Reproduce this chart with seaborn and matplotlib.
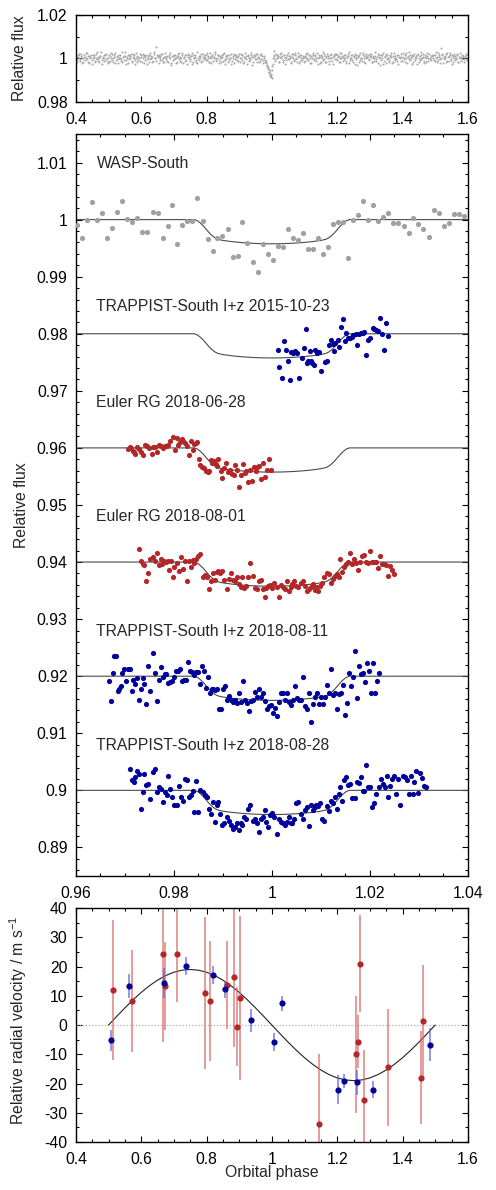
import numpy as np
import pandas as pd
import matplotlib
matplotlib.use("Agg")
import matplotlib.pyplot as plt
import seaborn as sns
from matplotlib.ticker import MultipleLocator, FormatStrFormatter

# ---------------- data ----------------
# top panel: folded WASP-South photometry (phase in 1e-3, flux deviation in 1e-4)
top_p = [401, 404, 407, 410, 414, 417, 420, 423, 427, 430, 433, 436, 440, 443, 446, 449, 453, 456, 459, 462, 466, 469, 472, 475, 479, 482, 485, 488, 492, 495,
         498, 502, 505, 508, 512, 515, 518, 521, 525, 528, 531, 535, 538, 541, 544, 548, 551, 554, 558, 561, 564, 567, 571, 574, 577, 581, 584, 587, 590, 594,
         597, 600, 604, 607, 610, 613, 617, 620, 623, 627, 630, 633, 636, 640, 643, 646, 650, 653, 656, 659, 663, 666, 669, 673, 676, 679, 682, 686, 689, 692,
         696, 699, 702, 705, 709, 712, 715, 719, 722, 725, 728, 732, 735, 738, 742, 745, 748, 751, 755, 758, 761, 765, 768, 771, 774, 778, 781, 784, 788, 791,
         794, 797, 801, 804, 807, 811, 814, 817, 820, 824, 827, 830, 834, 837, 840, 843, 847, 850, 853, 857, 860, 863, 866, 870, 873, 876, 880, 883, 886, 889,
         893, 896, 899, 903, 906, 909, 912, 916, 919, 922, 926, 929, 932, 935, 939, 942, 945, 949, 952, 955, 958, 962, 965, 968, 972, 975, 978, 981, 984, 987,
         989, 991, 993, 994, 996, 997, 999,
         1000, 1002, 1005, 1008, 1011, 1015, 1018, 1021, 1025, 1028, 1031, 1034, 1038, 1041, 1044, 1048, 1051, 1054, 1057, 1061, 1064, 1067, 1071, 1074, 1077, 1080, 1084, 1087, 1090, 1094,
         1097, 1100, 1104, 1107, 1110, 1113, 1117, 1120, 1123, 1127, 1130, 1133, 1136, 1140, 1143, 1146, 1150, 1153, 1156, 1159, 1163, 1166, 1169, 1173, 1176, 1179, 1182, 1186, 1189, 1192,
         1196, 1199, 1202, 1205, 1209, 1212, 1215, 1219, 1222, 1225, 1228, 1232, 1235, 1238, 1242, 1245, 1248, 1251, 1255, 1258, 1261, 1265, 1268, 1271, 1274, 1278, 1281, 1284, 1288, 1291,
         1294, 1297, 1301, 1304, 1307, 1311, 1314, 1317, 1320, 1324, 1327, 1330, 1334, 1337, 1340, 1343, 1347, 1350, 1353, 1357, 1360, 1363, 1366, 1370, 1373, 1376, 1380, 1383, 1386, 1389,
         1393, 1396, 1399, 1403, 1406, 1409, 1412, 1416, 1419, 1422, 1426, 1429, 1432, 1435, 1439, 1442, 1445, 1449, 1452, 1455, 1458, 1462, 1465, 1468, 1472, 1475, 1478, 1481, 1485, 1488,
         1491, 1495, 1498, 1501, 1504, 1508, 1511, 1514, 1518, 1521, 1524, 1527, 1531, 1534, 1537, 1541, 1544, 1547, 1550, 1554, 1557, 1560, 1564, 1567, 1570, 1573, 1577, 1580, 1583, 1587,
         1590, 1593, 1597, 1600]
top_f = [10, -6, 16, 4, -12, 20, 0, -18, 8, 24, -4, 12, -22, 6, 14, -8, 2, 18, -14, 4, 28, -10, 0, 12, -24, 6, 16, -2, 22, -12,
         4, -16, 10, 26, -6, 0, 14, -20, 8, -4, 18, 2, -12, 30, 6, -8, 12, -26, 4, 16, -2, 10, -14, 20, 0, -6, 24, -18, 8, 2,
         -10, 14, 4, -22, 18, 6, -4, 12, -16, 26, 0, 8, -12, 20, 2, 55, 10, 16, -6, 4, 22, -14, 8, 8, -2, 12, -18, 6, 24, -28,
         12, -4, 18, 2, -16, 8, 26, -10, 0, 14, -20, 6, 16, -6, 22, 4, -12, 10, -24, 18, 0, 8, -14, 28, 2, -8, 12, -18, 20, 6,
         4, 18, -8, 12, -18, 24, 0, 10, -12, 6, 20, -4, 14, -22, 8, 2, 16, -10, 26, -6, 12, 0, -16, 18, 4, -26, 10, 22, -2, 14,
         -6, 10, 20, -14, 4, 16, -20, 8, 24, -2, 12, -10, 0, 18, -28, 6, 14, -4, 22, -16, 8, 2, -12, 20, -6, 10, -18, -10, -30, -45,
         -40, -60, -55, -75, -85, -70, -90,
         -55, -25, 36, 12, -4, 18, 6, -14, 22, 0, 10, -18, 16, 4, -8, 26, -2, 12, -22, 8, 20, -6, 14, 0, -16, 24, 6, -10, 18, 2,
         8, -12, 22, 4, -6, 16, -20, 10, 0, 26, -8, 14, 2, -24, 18, 6, -14, 12, 28, -4, 10, -18, 20, 0, -10, 16, 4, -26, 12, 22,
         -4, 14, 6, -18, 24, 0, 10, -12, 18, 4, -22, 12, 28, -6, 2, 16, -14, 8, 20, -2, -28, 10, 18, -8, 4, 24, -16, 12, 0, 6,
         16, -6, 10, 22, -14, 4, -10, 12, -2, 20, 6, -32, 14, 0, 26, -10, 8, -22, 18, 4, -6, 12, 24, -16, 2, 10, -4, 18, -24, 8,
         6, 20, -10, 2, 14, -18, 24, 8, -4, 16, 0, -26, 12, 22, -8, 4, 18, -14, 10, 28, -2, 6, -20, 16, 0, 12, -12, 22, 4, -6,
         12, -8, 18, 2, -16, 24, 6, -4, 50, 14, -22, 8, 0, 20, -12, 10, 26, -6, 16, -18, 4, 12, -2, 22, -14, 8, 0, -10, 18, -4,
         6, 14, -8, 2]
top2_p = [402, 405, 409, 412, 415, 418, 422, 425, 428, 431, 435, 438, 441, 444, 448, 451, 454, 458, 461, 464, 467, 471, 474, 477, 480, 484, 487, 490, 494, 497,
          500, 503, 506, 510, 513, 516, 519, 523, 526, 529, 532, 536, 539, 542, 546, 549, 552, 555, 559, 562, 565, 568, 572, 575, 578, 582, 585, 588, 591, 595,
          598, 602, 605, 608, 611, 615, 618, 621, 625, 628, 631, 634, 638, 641, 644, 647, 651, 654, 657, 661, 664, 667, 670, 674, 677, 680, 684, 687, 690, 693,
          697, 700, 703, 707, 710, 713, 717, 720, 723, 726, 730, 733, 736, 739, 743, 746, 749, 753, 756, 759, 762, 766, 769, 772, 776, 779, 782, 785, 789, 792,
          795, 799, 802, 805, 809, 812, 815, 818, 822, 825, 828, 832, 835, 838, 841, 845, 848, 851, 855, 858, 861, 864, 868, 871, 874, 878, 881, 884, 887, 891,
          894, 897, 901, 904, 907, 910, 914, 917, 920, 924, 927, 930, 933, 937, 940, 943, 947, 950, 953, 956, 960, 963, 966, 970, 973, 976, 979, 982, 985, 988,
          990, 992, 995, 998,
          1001, 1004, 1007, 1010, 1013, 1016, 1020, 1023, 1026, 1029, 1033, 1036, 1039, 1043, 1046, 1049, 1052, 1056, 1059, 1062, 1066, 1069, 1072, 1075, 1079, 1082, 1085, 1089, 1092, 1095,
          1098, 1102, 1105, 1108, 1112, 1115, 1118, 1121, 1125, 1128, 1131, 1135, 1138, 1141, 1144, 1148, 1151, 1154, 1158, 1161, 1164, 1167, 1171, 1174, 1177, 1181, 1184, 1187, 1190, 1194,
          1197, 1200, 1204, 1207, 1210, 1213, 1217, 1220, 1223, 1227, 1230, 1233, 1236, 1240, 1243, 1246, 1250, 1253, 1256, 1259, 1263, 1266, 1269, 1273, 1276, 1279, 1282, 1286, 1289, 1292,
          1296, 1299, 1302, 1305, 1309, 1312, 1315, 1318, 1322, 1325, 1328, 1332, 1335, 1338, 1341, 1345, 1348, 1351, 1355, 1358, 1361, 1364, 1368, 1371, 1374, 1378, 1381, 1384, 1387, 1391,
          1394, 1397, 1401, 1404, 1407, 1410, 1414, 1417, 1420, 1424, 1427, 1430, 1433, 1437, 1440, 1443, 1447, 1450, 1453, 1456, 1460, 1463, 1466, 1470, 1473, 1476, 1479, 1483, 1486, 1489,
          1493, 1496, 1499, 1503, 1506, 1509, 1512, 1516, 1519, 1522, 1526, 1529, 1532, 1535, 1539, 1542, 1545, 1548, 1552, 1555, 1558, 1562, 1565, 1568, 1571, 1575, 1578, 1581, 1585, 1588,
          1591, 1595, 1598]
top2_f = [-14, 8, 22, -2, 12, -20, 4, 16, -8, 0, 26, -16, 10, 2, -24, 14, 6, -10, 20, -4, 8, -18, 12, 30, -6, 2, -12, 18, 4, -22,
          16, -10, 2, 20, -18, 8, 24, -6, 12, -22, 4, 18, -2, -14, 10, 28, -8, 6, -20, 14, 0, 22, -12, 8, 16, -26, 4, 12, -6, 20,
          6, -18, 22, 10, -8, 14, -26, 4, 18, -4, 12, -14, 28, 2, -10, 16, 6, -22, 10, 20, -6, 2, -16, 24, 8, -12, 14, 0, -20, 10,
          -8, 16, 4, -20, 12, 22, -4, 8, -16, 26, 2, -10, 14, -24, 6, 18, -2, 10, 24, -14, 4, 16, -8, -22, 12, 2, 20, -12, 8, -4,
          14, -6, 24, 2, -14, 8, -22, 16, 4, 28, -10, 0, 18, -6, 12, -18, 6, 22, -2, -26, 10, 16, -8, 4, 20, -12, 0, -20, 14, 8,
          8, -12, 2, 22, -6, 14, -16, 4, 10, -24, 18, 0, -8, 26, 6, -18, 12, -2, 20, 4, -14, 16, -4, 10, -20, 4, -8, -22, -35, -50,
          -65, -60, -80, -75,
          -35, 4, 16, -10, 22, 0, 12, -18, 6, 26, -6, 14, -24, 8, 18, -2, 10, 2, -14, 20, 4, -10, 24, -4, 10, -20, 16, 0, -8, 12,
          -16, 10, 2, 24, -8, 14, 4, -20, 18, -4, 10, -12, 26, 0, 8, -22, 16, 2, -6, 20, -14, 6, 12, -24, 4, 22, -10, 8, 14, -2,
          20, -8, 12, 2, -18, 26, 6, -4, 14, -12, 8, 22, -20, 4, 16, -6, 10, -26, 2, 18, 8, -14, 24, 0, -10, 14, 4, -22, 20, 6,
          -2, 22, 8, -16, 12, 4, 28, -10, 6, -20, 16, 0, -6, 14, -24, 10, 20, -4, 2, -14, 18, 8, -22, 12, 26, -8, 4, -12, 14, 0,
          -12, 8, 24, -4, 16, 0, -20, 10, 28, -8, 6, 18, -16, 2, 12, -26, 20, 4, -6, 14, 0, 22, -10, 8, -18, 26, 4, -4, 12, 18,
          2, 18, -12, 30, 8, -6, 14, -20, 4, 22, -2, 10, -16, 24, 6, -10, 16, 0, -24, 12, 20, -8, 2, 14, -14, 26, 6, -4, 10, -18,
          8, 20, -6]

# middle panel light curves: phase offset from 1 in 1e-4, flux deviation in 1e-4
wasp_p = [-398, -388, -377, -367, -357, -347, -337, -326, -316, -306, -296, -286, -275, -265, -254, -243, -233, -223, -213, -203,
          -193, -183, -173, -163, -152, -141, -131, -121, -111, -101, -90, -80, -70, -60, -50, -39, -29, -18, -8, 2,
          12, 22, 33, 43, 53, 63, 73, 84, 94, 104, 114, 125, 135, 146, 156, 166, 176, 186, 197, 207,
          217, 227, 237, 248, 258, 269, 279, 289, 299, 309, 320, 330, 341, 351, 361, 371, 381, 392]
wasp_f = [-10, -32, 0, 30, 0, 12, -32, -15, 14, 33, 1, -4, 3, -22, -22, 14, 11, -32, -11, 26,
          -43, -9, -2, -2, 37, -3, -34, -55, -32, -29, -17, -65, -64, -4, -41, -74, -92, -43, -60, -71,
          -47, -48, -16, -32, -35, -24, -52, -51, -33, -61, -48, -7, -5, -4, -67, 0, 8, 32, 0, 26,
          -2, 5, 11, -6, -6, -12, -23, 3, -7, -17, -31, 16, 11, -11, -6, 9, 9, 7]

t15_p = [12, 15, 20, 24, 29, 32, 36, 40, 44, 48, 52, 56, 61, 65, 69, 71, 74, 77, 79, 82,
         86, 89, 92, 96, 101, 108, 112, 117, 121, 124, 126, 129, 134, 137, 142, 146, 150, 152, 156, 159,
         163, 166, 171, 174, 177, 181, 185, 188, 192, 196, 200, 207, 209, 212, 217, 220, 224, 228, 233, 237]
t15_f = [-28, -59, -78, -13, -28, -48, -81, -32, -33, -31, -34, -78, -42, -25, 8, -51, -48, -30, -47, -51,
         -54, -29, -33, -32, -66, -50, -47, -19, -11, -18, -30, -16, -11, -23, 11, 26, -13, 1, -7, -7,
         -6, -2, 0, -19, 0, 2, 1, 3, -37, -11, -8, 10, 8, 6, 4, 27, -1, -28, 18, -4]

e0628_p = [-293, -290, -287, -284, -282, -279, -275, -271, -268, -264, -259, -254, -250, -245, -242, -239, -235, -231, -227, -223,
           -218, -215, -211, -207, -201, -198, -194, -191, -188, -184, -181, -177, -174, -170, -166, -162, -158, -155, -152, -148,
           -146, -142, -139, -135, -131, -128, -125, -122, -118, -114, -112, -109, -104, -101, -97, -93, -90, -86, -82, -78,
           -75, -71, -67, -63, -59, -55, -52, -48, -44, -40, -37, -33, -30, -26, -22, -18, -14, -10, -5, -1]
e0628_f = [-2, 2, 0, -5, -7, -11, 2, -2, -8, -13, 5, 3, -1, -10, 2, 2, -7, 5, 3, -1,
           3, 4, 5, 12, 19, -4, 18, 5, 11, 16, 12, 8, 3, -12, 12, -4, 6, 9, 11, -20,
           -30, -33, -36, -40, -42, -40, -22, -27, -23, -29, -32, -19, -40, -52, -36, -26, -42, -39, -45, -48,
           -30, -39, -68, -48, -29, -44, -40, -60, -38, -58, -33, -40, -33, -32, -55, -27, -51, -39, -19, -39]

e0801_p = [-271, -268, -264, -260, -256, -252, -248, -243, -239, -235, -231, -227, -224, -220, -216, -212, -210, -205, -201, -199,
           -194, -190, -186, -182, -178, -174, -170, -166, -162, -158, -154, -150, -146, -141, -137, -133, -129, -125, -121, -117,
           -113, -109, -105, -101, -97, -92, -88, -84, -80, -76, -72, -68, -64, -60, -56, -52, -48, -44, -39, -35,
           -31, -27, -23, -19, -15, -11, -7, -3, 1, 5, 10, 14, 18, 22, 26, 30, 34, 38, 42, 46,
           50, 54, 59, 63, 67, 71, 75, 79, 83, 87, 91, 95, 99, 103, 107, 112, 116, 120, 124, 128,
           132, 136, 139, 143, 147, 151, 155, 159, 163, 167, 171, 175, 180, 184, 188, 192, 196, 200, 204, 208,
           212, 216, 220, 224, 228, 233, 237, 241, 245, 249]
e0801_f = [23, 2, -3, -5, -33, -19, 5, 8, 2, 15, -5, 5, -4, 2, 0, 2, -14, 1, -26, -9,
           -1, -15, 8, -13, 2, -33, 2, -8, 4, -2, 6, 11, 14, -26, -23, -26, -48, -33, -19, -32,
           -17, -15, -20, -15, -32, -48, -30, -20, -32, -34, -27, -39, -43, -26, -46, -42, -27, -1, -25, -46,
           -48, -34, -32, -48, -62, -46, -42, -40, -46, -37, -44, -62, -40, -43, -48, -34, -50, -44, -39, -33,
           -42, -44, -36, -33, -42, -50, -48, -43, -39, -49, -44, -50, -42, -36, -27, -19, -21, -36, -29, -25,
           -21, -27, 6, -17, -8, -4, 0, 16, -4, 6, -2, -14, 0, 11, 12, 0, -1, 20, 0, 0,
           0, -11, 11, -4, -4, -5, -25, -7, -14, -21]

t0811_p = [-333, -329, -325, -322, -318, -315, -311, -308, -305, -301, -298, -293, -290, -286, -283, -279, -276, -272, -268, -264,
           -260, -256, -252, -248, -243, -239, -235, -231, -227, -223, -219, -216, -212, -208, -204, -200, -196, -192, -188, -184,
           -180, -175, -171, -167, -163, -159, -155, -151, -147, -143, -139, -135, -131, -126, -122, -120, -116, -112, -107, -103,
           -99, -95, -91, -87, -83, -79, -75, -71, -67, -63, -59, -54, -50, -46, -42, -38, -34, -30, -26, -22,
           -18, -14, -10, -5, -1, 3, 7, 11, 15, 19, 23, 27, 31, 35, 39, 44, 48, 52, 56, 60,
           64, 68, 72, 76, 80, 84, 88, 92, 97, 101, 105, 109, 113, 117, 121, 125, 129, 133, 137, 141,
           146, 150, 154, 158, 162, 166, 170, 174, 178, 182, 186, 190, 194, 198, 203, 207, 211, 215, 219]
t0811_f = [-8, -43, 6, 35, 35, -26, -23, -18, 6, 12, -8, 12, 12, -26, -6, -14, -4, -41, -23, -4,
           -14, -49, 18, -26, 41, 6, -43, -6, 16, -2, 4, 4, -12, -10, -8, -2, 9, 9, 12, -8,
           -7, -6, 25, 9, 8, 2, 8, 8, -14, 18, 9, -20, -2, -29, -22, -22, -25, -23, -57, -57,
           -23, -18, -41, -35, -42, -45, -41, -47, -29, -45, -8, -41, -47, -61, -43, -42, -27, -36, -22, -36,
           -29, -43, -57, -53, -51, -64, -55, -70, -45, -29, -30, -41, -29, -45, -51, -41, -18, -39, -41, -41,
           -2, -53, -58, -29, -80, -49, -37, -29, -49, -37, -49, -37, -16, -30, 12, -33, -30, -57, -32, -29,
           -16, -68, -47, 5, -18, -1, 44, -39, 18, 3, 5, -10, 23, 9, -30, 23, -30, -8, 6]

t0828_p = [-289, -286, -282, -279, -275, -272, -268, -264, -261, -256, -252, -248, -243, -239, -235, -231, -227, -223, -219, -215,
           -211, -207, -203, -199, -194, -190, -186, -182, -178, -174, -170, -166, -162, -158, -154, -150, -146, -141, -137, -133,
           -129, -125, -121, -117, -113, -109, -105, -101, -97, -92, -88, -84, -80, -76, -72, -68, -64, -60, -56, -52,
           -48, -44, -39, -35, -31, -27, -23, -19, -15, -11, -7, -3, 1, 5, 10, 14, 18, 22, 26, 30,
           34, 38, 42, 46, 50, 54, 59, 63, 67, 71, 75, 79, 83, 87, 91, 95, 99, 103, 107, 112,
           116, 120, 124, 128, 132, 136, 140, 144, 148, 152, 156, 160, 164, 169, 173, 177, 181, 185, 189, 193,
           197, 201, 205, 209, 213, 218, 222, 226, 230, 234, 238, 242, 246, 250, 254, 258, 262, 267, 271, 275,
           279, 283, 287, 291, 295, 299, 303, 307, 311, 315]
t0828_f = [38, 18, 15, 23, 34, 28, -32, -3, 28, 9, 11, -15, 32, 38, -3, 6, 3, -20, -3, -9,
           25, 3, -11, -26, -26, 7, -12, -18, 20, 18, -11, -9, -1, -38, 16, -38, 0, -3, -9, -12,
           -32, -41, -20, -55, -25, -20, -41, -61, -58, -46, -53, -61, -67, -64, -58, -69, -58, -61, -46, -50,
           -32, -25, -54, -51, -58, -73, -50, -46, -34, -55, -64, -44, -40, -47, -76, -51, -55, -58, -61, -55,
           -46, -58, -57, -50, -22, -20, -42, -50, -35, -29, -63, -26, -35, -29, -25, -28, -23, -50, -54, -28,
           -36, -19, -22, -12, -32, -6, 5, -18, 18, 23, 9, 11, -13, -13, 15, 13, 23, -1, -2, 44,
           6, 5, -29, -22, -6, 5, 20, 11, 5, 25, -11, 7, 20, 26, -7, 20, -25, 25, 23, 19,
           -7, 25, -7, 15, 34, -5, 30, 22, 7, 5]

# transit model (phase offset 1e-4, depth 1e-4)
model_p = [-400, -158, -152, -146, -140, -134, -128, -122, -116, -110, -100, -80, -60, -40, -20, 0,
           20, 40, 60, 80, 100, 110, 116, 122, 128, 134, 140, 146, 152, 158, 400]
model_f = [0, 0, -2, -6, -11, -17, -23, -28, -32, -34.5, -36.5, -38.8, -40.4, -41.5, -42.2, -42.4,
           -42.2, -41.5, -40.4, -38.8, -36.5, -34.5, -32, -28, -23, -17, -11, -6, -2, 0, 0]

lc_names = ["WASP-South", "TRAPPIST-South I+z 2015-10-23", "Euler RG 2018-06-28",
            "Euler RG 2018-08-01", "TRAPPIST-South I+z 2018-08-11", "TRAPPIST-South I+z 2018-08-28"]
lc_base = [1.0, 0.98, 0.96, 0.94, 0.92, 0.90]
lc_label_y = [1.0099, 0.9848, 0.9679, 0.9479, 0.9279, 0.9079]

# radial velocities
red_phase = [0.513, 0.572, 0.668, 0.674, 0.709, 0.795, 0.811, 0.863, 0.884, 0.894, 0.902,
             1.143, 1.257, 1.264, 1.271, 1.282, 1.356, 1.455, 1.463]
red_rv = [12.0, 8.3, 24.3, 13.3, 24.3, 11.1, 8.3, 13.8, 16.4, -0.5, 9.2,
          -34.0, -10.0, -5.7, 21.0, -25.6, -14.4, -18.0, 1.4]
red_err = [24, 17.5, 30, 15, 16.5, 26, 20.5, 15, 24, 13.5, 28,
           24, 20, 9, 16.5, 17, 20, 16, 19]
blue_phase = [0.506, 0.562, 0.670, 0.737, 0.819, 0.856, 0.936, 1.005, 1.031, 1.203, 1.220, 1.262, 1.310, 1.484]
blue_rv = [-5.2, 13.3, 14.4, 20.2, 17.2, 12.2, 1.6, -5.8, 7.4, -22.1, -19.1, -19.6, -22.1, -6.7]
blue_err = [3.6, 4, 5, 3, 3, 3, 4, 3, 2.5, 5, 2.5, 4.4, 3, 5.6]

rv_model_phase = [0.5, 0.525, 0.55, 0.575, 0.6, 0.625, 0.65, 0.675, 0.7, 0.725, 0.75, 0.775, 0.8, 0.825,
                  0.85, 0.875, 0.9, 0.925, 0.95, 0.975, 1.0, 1.025, 1.05, 1.075, 1.1, 1.125, 1.15, 1.175,
                  1.2, 1.225, 1.25, 1.275, 1.3, 1.325, 1.35, 1.375, 1.4, 1.425, 1.45, 1.475, 1.5]
rv_model = [0, 2.97, 5.87, 8.63, 11.17, 13.43, 15.37, 16.93, 18.07, 18.77, 19.0, 18.77, 18.07, 16.93,
            15.37, 13.43, 11.17, 8.63, 5.87, 2.97, 0, -2.97, -5.87, -8.63, -11.17, -13.43, -15.37, -16.93,
            -18.07, -18.77, -19.0, -18.77, -18.07, -16.93, -15.37, -13.43, -11.17, -8.63, -5.87, -2.97, 0]

# ---------------- plotting ----------------
sns.set_theme(style="ticks")
plt.rcParams["font.family"] = ["Liberation Sans", "DejaVu Sans"]
plt.rcParams["font.size"] = 11.3
plt.rcParams["mathtext.fontset"] = "custom"
plt.rcParams["mathtext.rm"] = "Liberation Sans"
plt.rcParams["mathtext.default"] = "rm"

FS = 11.3

fig = plt.figure(figsize=(4.96, 11.9), dpi=100)
ax_top = fig.add_axes([0.153, 0.9143, 0.7903, 0.0731])
ax_lc = fig.add_axes([0.153, 0.2639, 0.7903, 0.6235])
ax_rv = fig.add_axes([0.153, 0.0403, 0.7903, 0.1966])


def style_axis(ax, xmaj, xmin, ymaj, ymin):
    ax.xaxis.set_major_locator(MultipleLocator(xmaj))
    ax.xaxis.set_minor_locator(MultipleLocator(xmin))
    ax.yaxis.set_major_locator(MultipleLocator(ymaj))
    ax.yaxis.set_minor_locator(MultipleLocator(ymin))
    ax.xaxis.set_major_formatter(FormatStrFormatter("%g"))
    ax.yaxis.set_major_formatter(FormatStrFormatter("%g"))
    ax.tick_params(which="both", direction="in", top=True, right=True,
                   color="black", labelcolor="black", labelsize=FS)
    ax.tick_params(which="major", length=4.5, width=0.8)
    ax.tick_params(which="minor", length=2.2, width=0.8)
    ax.tick_params(axis="x", which="both", pad=7.5)
    ax.tick_params(axis="y", which="both", pad=6)
    for sp in ax.spines.values():
        sp.set_color("black")
        sp.set_linewidth(1.0)


# top panel
top = pd.DataFrame({"phase": np.array(top_p + top2_p) * 1e-3,
                    "flux": 1 + np.array(top_f + top2_f) * 1e-4})
sns.scatterplot(data=top, x="phase", y="flux", ax=ax_top, color="#a8a8a8", s=2.2,
                linewidth=0, legend=False)
ax_top.set_xlim(0.4, 1.6)
ax_top.set_ylim(0.98, 1.02)
style_axis(ax_top, 0.2, 0.05, 0.02, 0.01)
ax_top.set_xlabel("")
ax_top.set_ylabel("Relative flux", fontsize=FS)
ax_top.yaxis.set_label_coords(-0.125, 0.5)

# light curves
lc_p = [wasp_p, t15_p, e0628_p, e0801_p, t0811_p, t0828_p]
lc_f = [wasp_f, t15_f, e0628_f, e0801_f, t0811_f, t0828_f]
lc_col = ["#a0a0a0", "#00009a", "#b22727", "#b22727", "#00009a", "#00009a"]
for p, f, base, col, name, ly in zip(lc_p, lc_f, lc_base, lc_col, lc_names, lc_label_y):
    mod = pd.DataFrame({"phase": 1 + np.array(model_p) * 1e-4,
                        "flux": base + np.array(model_f) * 1e-4})
    sns.lineplot(data=mod, x="phase", y="flux", ax=ax_lc, color="#4a4a4a", lw=0.8,
                 sort=False, estimator=None)
    d = pd.DataFrame({"phase": 1 + np.array(p) * 1e-4, "flux": base + np.array(f) * 1e-4})
    sns.scatterplot(data=d, x="phase", y="flux", ax=ax_lc, color=col, s=14,
                    linewidth=0, legend=False, zorder=3)
    ax_lc.text(0.9642, ly, name, fontsize=FS, va="center", ha="left")
ax_lc.set_xlim(0.96, 1.04)
ax_lc.set_ylim(0.885, 1.015)
style_axis(ax_lc, 0.02, 0.005, 0.01, 0.002)
ax_lc.set_xlabel("")
ax_lc.set_ylabel("Relative flux", fontsize=FS)
ax_lc.yaxis.set_label_coords(-0.12, 0.5)

# radial velocities
ax_rv.axhline(0, color="#b0b0b0", lw=0.9, ls=(0, (1, 1.5)), zorder=1)
rvm = pd.DataFrame({"phase": rv_model_phase, "rv": rv_model})
sns.lineplot(data=rvm, x="phase", y="rv", ax=ax_rv, color="#222222", lw=0.8,
             sort=False, estimator=None, zorder=2)
ax_rv.errorbar(red_phase, red_rv, yerr=red_err, fmt="none", ecolor="#d86060",
               elinewidth=1.1, alpha=0.8, capsize=0, zorder=2)
ax_rv.errorbar(blue_phase, blue_rv, yerr=blue_err, fmt="none", ecolor="#5a5ad8",
               elinewidth=1.1, alpha=0.8, capsize=0, zorder=2)
sns.scatterplot(x=red_phase, y=red_rv, ax=ax_rv, color="#b22727", s=20, linewidth=0,
                legend=False, zorder=3)
sns.scatterplot(x=blue_phase, y=blue_rv, ax=ax_rv, color="#00009a", s=20, linewidth=0,
                legend=False, zorder=3)
ax_rv.set_xlim(0.4, 1.6)
ax_rv.set_ylim(-40, 40)
style_axis(ax_rv, 0.2, 0.05, 10, 5)
ax_rv.set_xlabel("Orbital phase", fontsize=FS)
ax_rv.xaxis.set_label_coords(0.5, -0.1)
ax_rv.set_ylabel("Relative radial velocity / m s$^{-1}$", fontsize=FS)
ax_rv.yaxis.set_label_coords(-0.12, 0.52)

fig.savefig("out.png", dpi=100)
